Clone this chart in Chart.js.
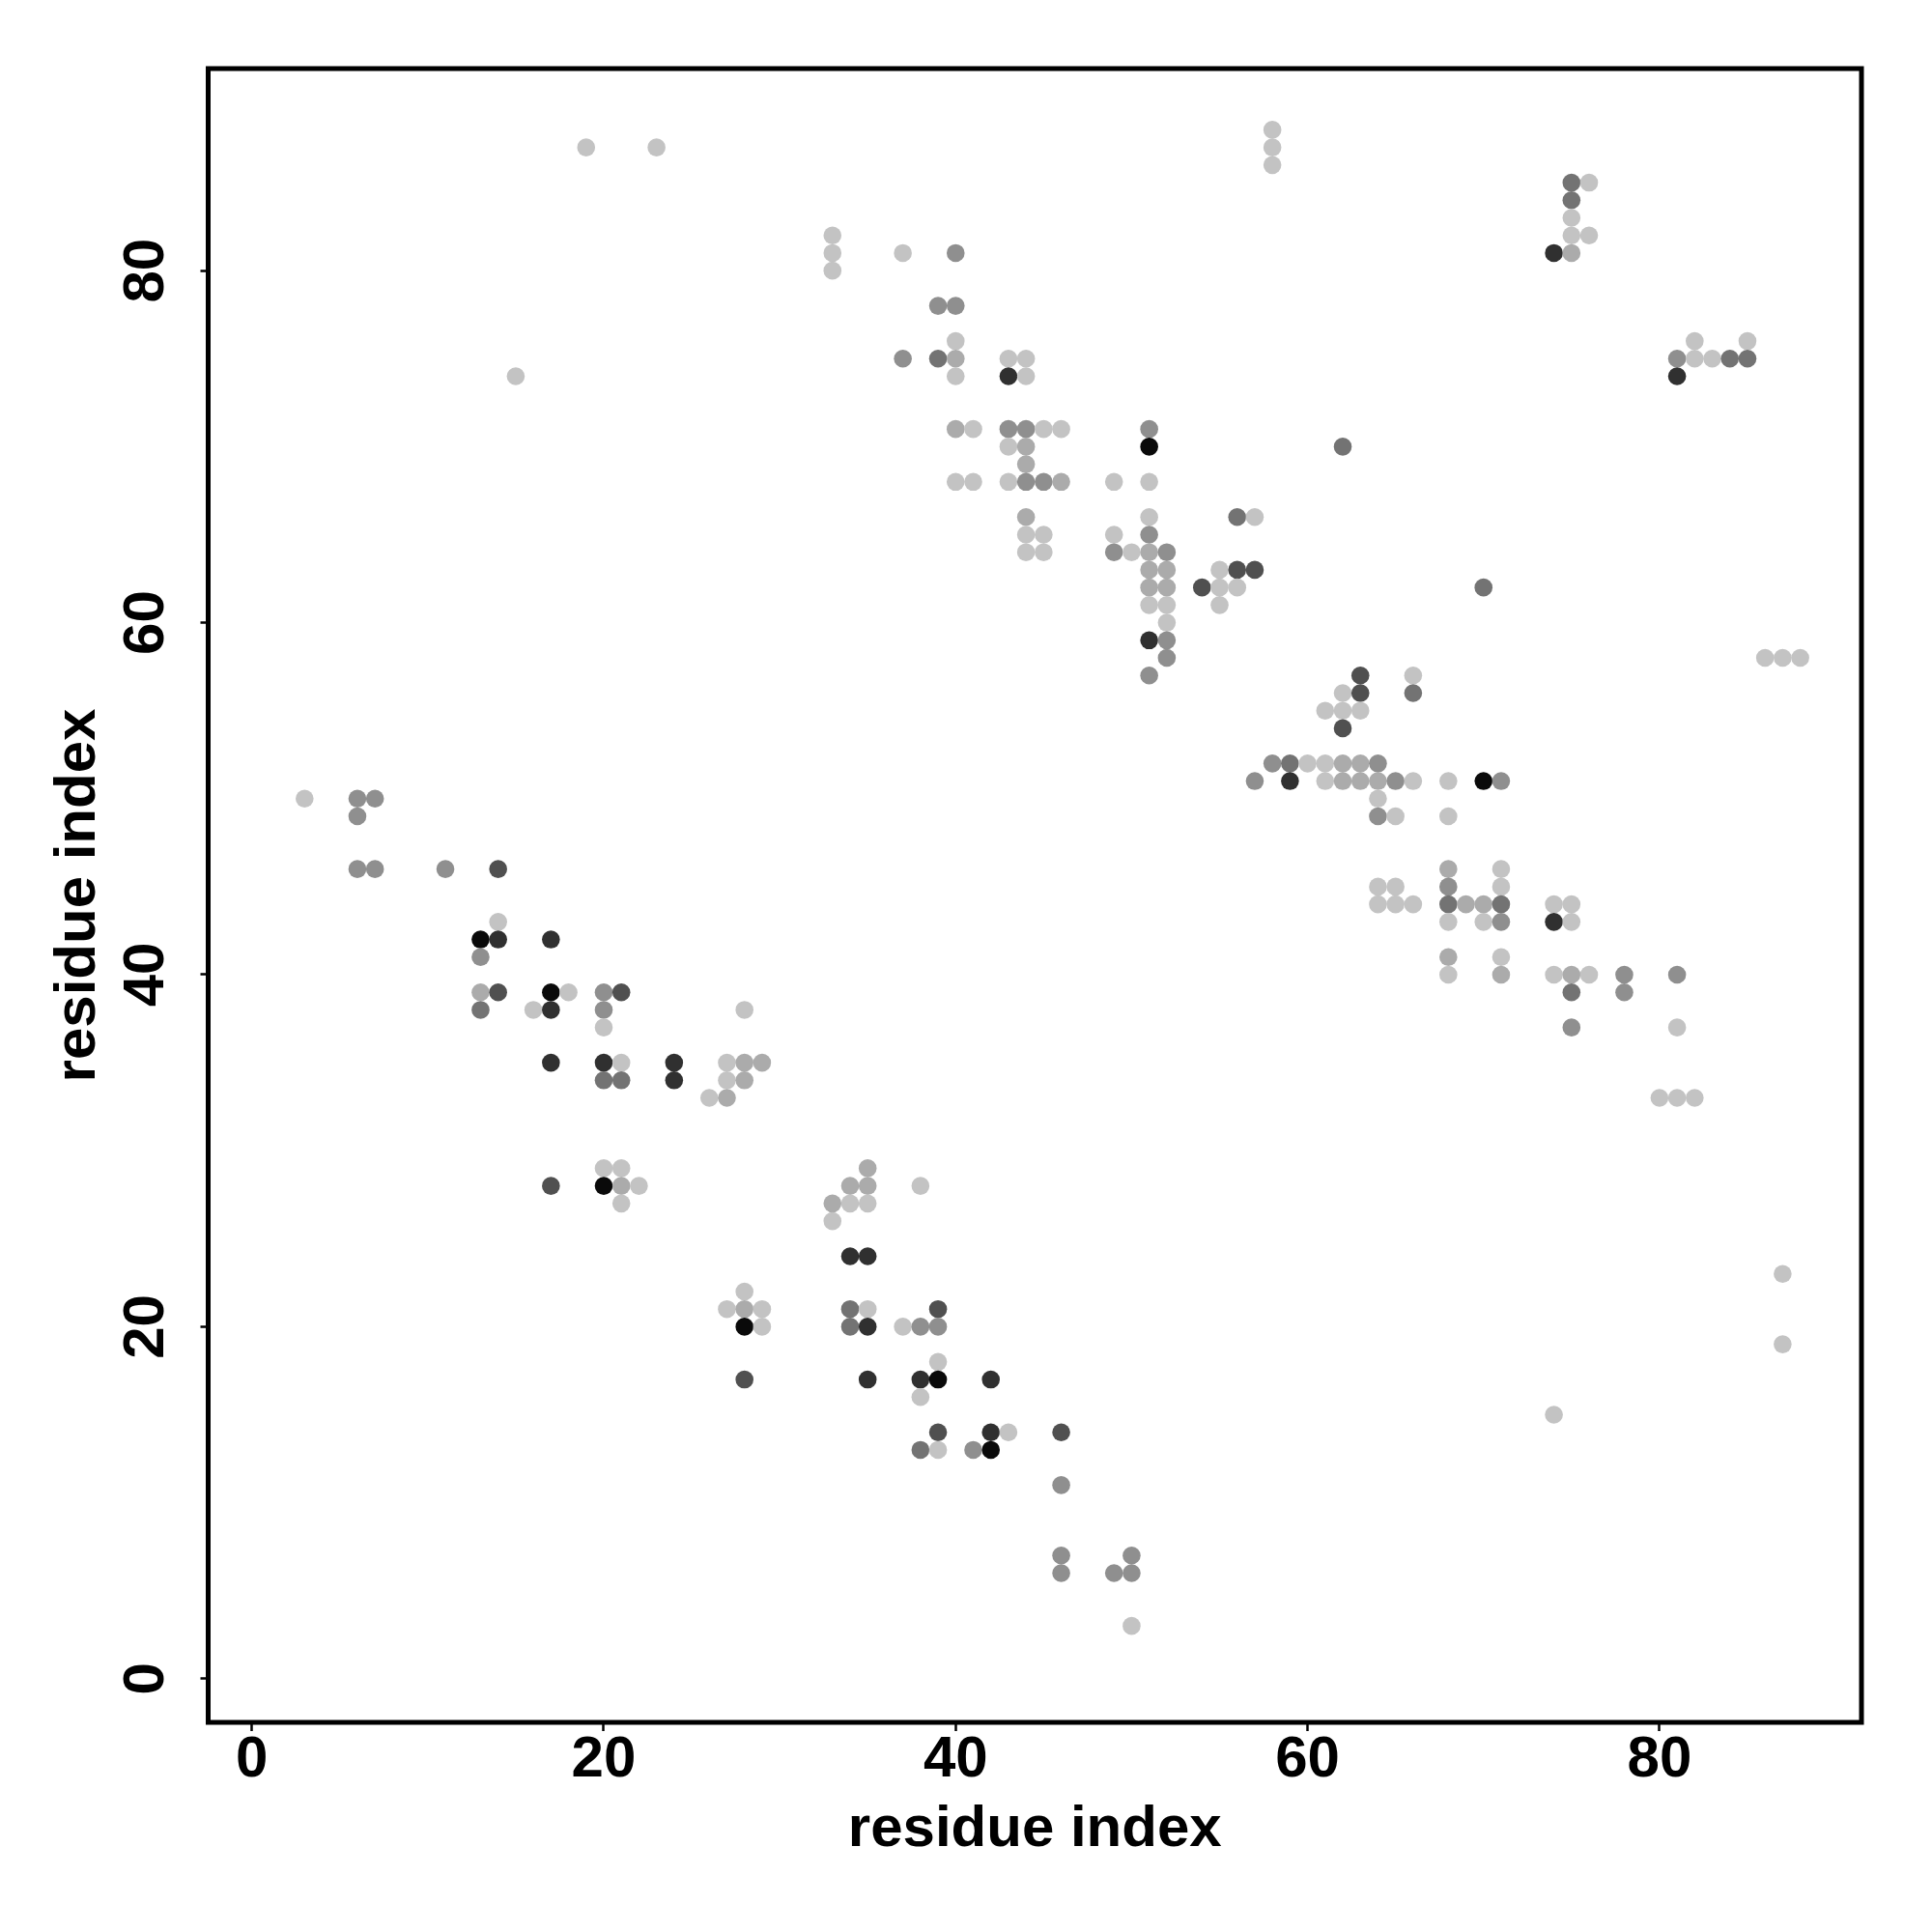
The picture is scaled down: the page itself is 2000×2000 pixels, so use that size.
<!DOCTYPE html>
<html lang="en">
<head>
    <meta charset="UTF-8">
    <title>Contact map</title>
    <script src="https://cdn.jsdelivr.net/npm/chart.js@4.4.1/dist/chart.umd.min.js"></script>
    <style>
        body {
            margin: 0;
            background-color: #ffffff;
        }

        #mapa {
            display: block;
        }
    </style>
</head>
<body>
    <canvas id="mapa" width="2000" height="2000"></canvas>

    <script>
        // residues run 1..88, R-style 4% padding on both axes
        const SEQ_START = 1;
        const SEQ_END = 88;
        const tickValues = [0, 20, 40, 60, 80];

        // contacts, one row per y value: x positions and strength level (1 = weak .. 7 = strong)
        const rowY = [88, 87, 86, 85, 84, 83, 82, 81, 80, 78, 76, 75, 74, 71, 70, 69, 68, 66, 65, 64, 63, 62, 61, 60, 59, 58, 57, 56, 55, 54, 52, 51, 50, 49, 46, 45, 44, 43, 42, 41, 40, 39, 38, 37, 35, 34, 33, 29, 28, 27, 26, 24, 23, 22, 21, 20, 19, 18, 17, 16, 15, 14, 13, 11, 7, 6, 3];
        const rowX = [
            [58],
            [19, 23, 58],
            [58],
            [75, 76],
            [75],
            [75],
            [33, 75, 76],
            [33, 37, 40, 74, 75],
            [33],
            [39, 40],
            [40, 82, 85],
            [37, 39, 40, 43, 44, 81, 82, 83, 84, 85],
            [15, 40, 43, 44, 81],
            [40, 41, 43, 44, 45, 46, 51],
            [43, 44, 51, 62],
            [44],
            [40, 41, 43, 44, 45, 46, 49, 51],
            [44, 51, 56, 57],
            [44, 45, 49, 51],
            [44, 45, 49, 50, 51, 52],
            [51, 52, 55, 56, 57],
            [51, 52, 54, 55, 56, 70],
            [51, 52, 55],
            [52],
            [51, 52],
            [52, 86, 87, 88],
            [51, 63, 66],
            [62, 63, 66],
            [61, 62, 63],
            [62],
            [58, 59, 60, 61, 62, 63, 64],
            [57, 59, 61, 62, 63, 64, 65, 66, 68, 70, 71],
            [3, 6, 7, 64],
            [6, 64, 65, 68],
            [6, 7, 11, 14, 68, 71],
            [64, 65, 68, 71],
            [64, 65, 66, 68, 69, 70, 71, 74, 75],
            [14, 68, 70, 71, 74, 75],
            [13, 14, 17],
            [13, 68, 71],
            [68, 71, 74, 75, 76, 78, 81],
            [13, 14, 17, 18, 20, 21, 75, 78],
            [13, 16, 17, 20, 28],
            [20, 75, 81],
            [17, 20, 21, 24, 27, 28, 29],
            [20, 21, 24, 27, 28],
            [26, 27, 80, 81, 82],
            [20, 21, 35],
            [17, 20, 21, 22, 34, 35, 38],
            [21, 33, 34, 35],
            [33],
            [34, 35],
            [87],
            [28],
            [27, 28, 29, 34, 35, 39],
            [28, 29, 34, 35, 37, 38, 39],
            [87],
            [39],
            [28, 35, 38, 39, 42],
            [38],
            [74],
            [39, 42, 43, 46],
            [38, 39, 41, 42],
            [46],
            [46, 50],
            [46, 49, 50],
            [50]
        ];
        const rowLevel = [
            [1],
            [1, 1, 1],
            [1],
            [4, 1],
            [4],
            [1],
            [1, 1, 1],
            [1, 1, 3, 6, 2],
            [1],
            [3, 3],
            [1, 1, 1],
            [3, 4, 2, 1, 1, 3, 1, 1, 4, 4],
            [1, 1, 6, 1, 6],
            [2, 1, 3, 3, 1, 1, 3],
            [1, 2, 7, 4],
            [2],
            [1, 1, 1, 3, 3, 2, 1, 1],
            [2, 1, 4, 1],
            [1, 1, 1, 3],
            [1, 1, 3, 1, 2, 3],
            [2, 2, 1, 5, 5],
            [2, 2, 5, 1, 1, 4],
            [1, 1, 1],
            [1],
            [6, 3],
            [3, 1, 1, 1],
            [3, 5, 1],
            [1, 5, 4],
            [1, 1, 1],
            [5],
            [3, 4, 1, 1, 2, 2, 3],
            [3, 6, 1, 2, 2, 2, 3, 1, 1, 7, 3],
            [1, 3, 3, 1],
            [3, 3, 1, 1],
            [3, 3, 3, 5, 2, 1],
            [1, 1, 3, 1],
            [1, 1, 1, 4, 2, 2, 4, 1, 1],
            [1, 1, 1, 3, 6, 1],
            [7, 6, 6],
            [3, 2, 1],
            [1, 2, 1, 2, 1, 3, 3],
            [2, 5, 7, 1, 3, 5, 4, 3],
            [4, 1, 6, 3, 1],
            [1, 3, 1],
            [6, 6, 1, 6, 1, 2, 2],
            [4, 4, 6, 1, 2],
            [1, 2, 1, 1, 1],
            [1, 1, 2],
            [5, 7, 2, 1, 2, 2, 1],
            [1, 2, 1, 1],
            [1],
            [6, 6],
            [1],
            [1],
            [1, 2, 1, 4, 1, 5],
            [7, 1, 4, 6, 1, 3, 3],
            [1],
            [1],
            [5, 6, 6, 7, 6],
            [1],
            [1],
            [5, 6, 1, 5],
            [4, 1, 3, 7],
            [3],
            [3, 3],
            [3, 3, 3],
            [1]
        ];

        // grey for each strength level
        const GRISES = ['#c3c3c3', '#ababab', '#8f8f8f', '#737373', '#505050', '#303030', '#0a0a0a'];
        const FUENTE = "'Liberation Sans', Arial, Helvetica, sans-serif";

        const puntos = [];
        const colores = [];
        rowY.forEach((y, i) => {
            rowX[i].forEach((x, j) => {
                puntos.push({ x: x, y: y });
                colores.push(GRISES[rowLevel[i][j] - 1]);
            });
        });

        const extra = (SEQ_END - SEQ_START) * 0.04;
        const ejeMin = SEQ_START - extra;
        const ejeMax = SEQ_END + extra;

        // plot frame like R's box()
        const marco = {
            id: 'marco',
            afterDraw(chart) {
                const { ctx, chartArea } = chart;
                ctx.save();
                ctx.strokeStyle = '#000';
                ctx.lineWidth = 5;
                ctx.strokeRect(chartArea.left, chartArea.top, chartArea.right - chartArea.left, chartArea.bottom - chartArea.top);
                ctx.restore();
            }
        };

        const fuenteEje = { family: FUENTE, size: 60, weight: 'bold', lineHeight: 1 };

        new Chart(document.getElementById('mapa'), {
            type: 'scatter',
            data: {
                datasets: [{
                    data: puntos,
                    pointBackgroundColor: colores,
                    pointBorderWidth: 0,
                    pointRadius: 9.3,
                    pointHoverRadius: 9.3
                }]
            },
            options: {
                responsive: false,
                animation: false,
                events: [],
                layout: { padding: { top: 71, right: 73, left: 0, bottom: 0 } },
                plugins: {
                    legend: { display: false },
                    tooltip: { enabled: false }
                },
                scales: {
                    x: {
                        type: 'linear',
                        min: ejeMin,
                        max: ejeMax,
                        afterBuildTicks: s => { s.ticks = tickValues.map(v => ({ value: v })); },
                        afterFit: s => { s.height = 217; },
                        border: { display: false },
                        grid: { drawOnChartArea: false, drawTicks: true, tickLength: 9, tickWidth: 2.5, tickColor: '#000' },
                        ticks: { color: '#000', font: fuenteEje, padding: 0, maxRotation: 0 },
                        title: { display: true, text: 'residue index', color: '#000', font: fuenteEje, padding: { top: 0, bottom: 76 } }
                    },
                    y: {
                        type: 'linear',
                        min: ejeMin,
                        max: ejeMax,
                        afterBuildTicks: s => { s.ticks = tickValues.map(v => ({ value: v })); },
                        afterFit: s => { s.width = 215.5; },
                        border: { display: false },
                        grid: { drawOnChartArea: false, drawTicks: true, tickLength: 8, tickWidth: 2.5, tickColor: '#000' },
                        ticks: { color: '#000', font: fuenteEje, padding: 22, minRotation: 90, maxRotation: 90, crossAlign: 'center' },
                        title: { display: true, text: 'residue index', color: '#000', font: fuenteEje, padding: { top: 51, bottom: 0 } }
                    }
                }
            },
            plugins: [marco]
        });
    </script>
</body>
</html>
